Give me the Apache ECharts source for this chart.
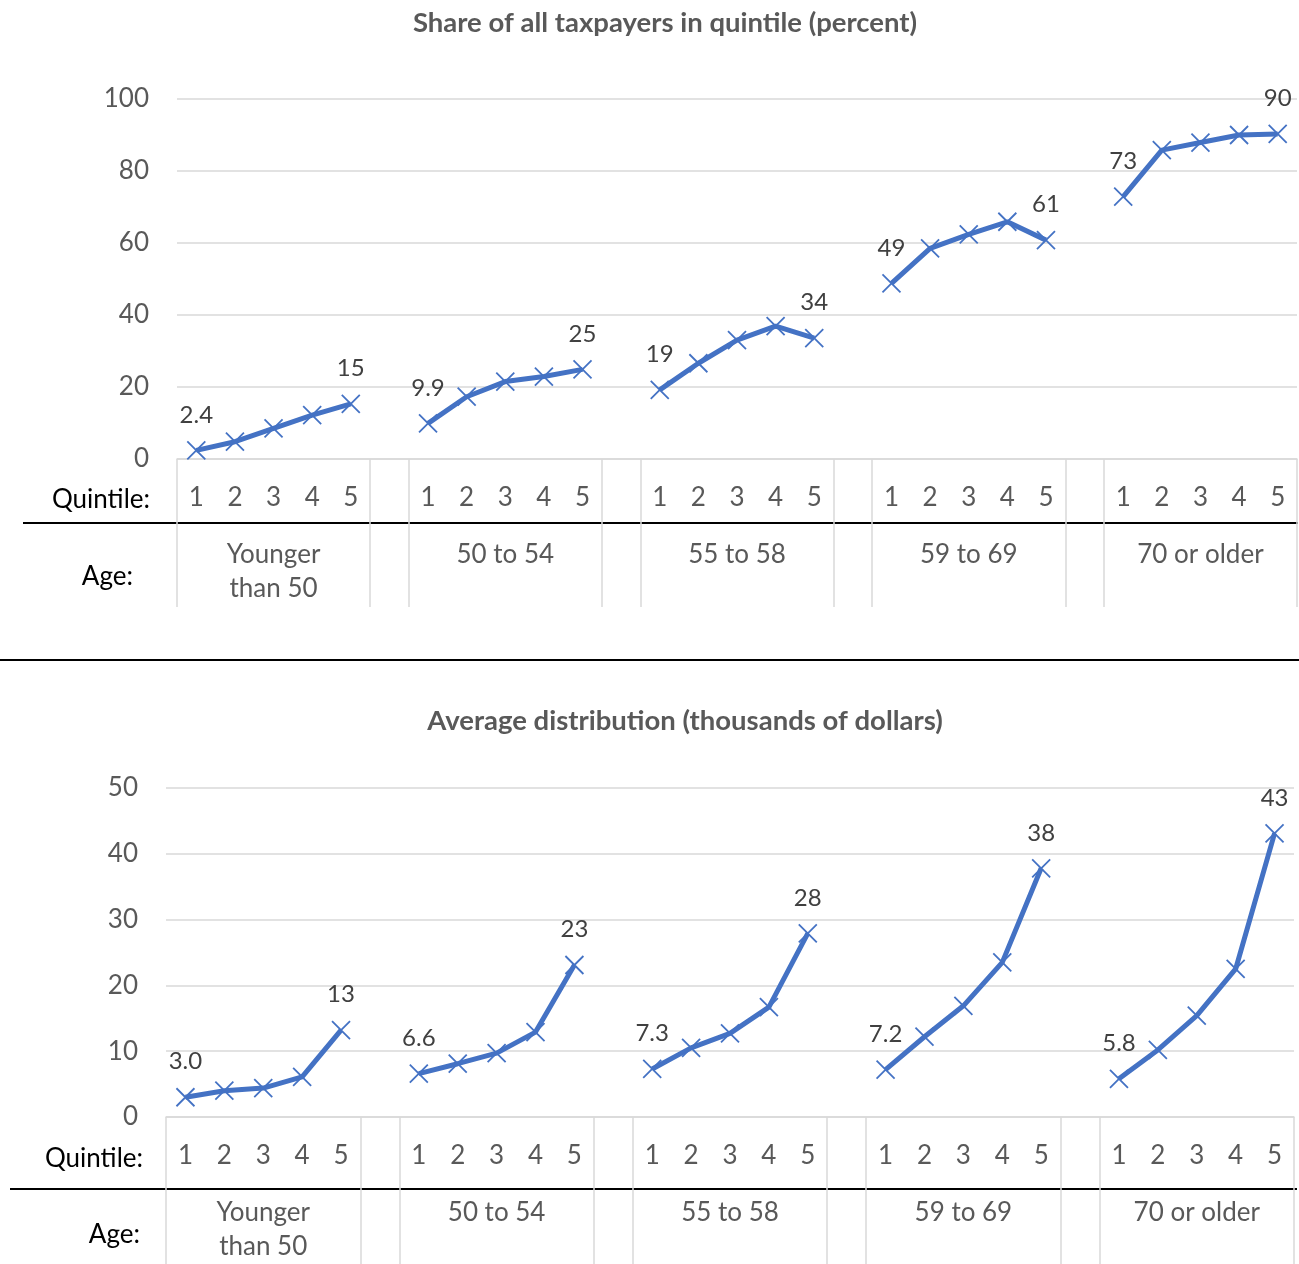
<!DOCTYPE html>
<html>
<head>
<meta charset="utf-8">
<script src="https://cdn.jsdelivr.net/npm/echarts@6/dist/echarts.min.js"></script>
<style>
  html, body { margin: 0; padding: 0; background: #fff; }
  #main { width: 1299px; height: 1264px; }
</style>
</head>
<body>
<div id="main"></div>
<script>
// quintiles inside each age group
const quintiles = ['1', '2', '3', '4', '5'];
const ageGroups = ['Younger\nthan 50', '50 to 54', '55 to 58', '59 to 69', '70 or older'];

// share of all taxpayers in quintile (percent), one row per age group
const shareYounger = [2.4, 4.8, 8.5, 12.2, 15.3];
const share50to54 = [9.9, 17.3, 21.5, 22.9, 24.9];
const share55to58 = [19.2, 26.6, 33.0, 36.9, 33.6];
const share59to69 = [48.8, 58.5, 62.4, 65.9, 60.8];
const share70plus = [72.9, 85.8, 87.9, 90.0, 90.3];

// average distribution (thousands of dollars)
const avgYounger = [3.0, 4.0, 4.4, 6.1, 13.2];
const avg50to54 = [6.6, 8.1, 9.7, 12.9, 23.1];
const avg55to58 = [7.3, 10.5, 12.7, 16.7, 27.9];
const avg59to69 = [7.2, 12.2, 16.9, 23.5, 37.8];
const avg70plus = [5.8, 10.2, 15.4, 22.5, 43.1];

const shareTicks = [0, 20, 40, 60, 80, 100];
const avgTicks = [0, 10, 20, 30, 40, 50];

const blue = '#4472c4';
const gray = '#595959';
const gridGray = '#d9d9d9';
const font = 'Lato';
const axisFont = 26;

// one empty slot between age groups
const groupSize = quintiles.length + 1;
let quintileCats = [];
let ageCats = [];
ageGroups.forEach((g, i) => {
    quintiles.forEach((q, j) => {
        quintileCats.push(q);
        ageCats.push(j == 2 ? g : '');
    });
    if (i < ageGroups.length - 1) {
        quintileCats.push('');
        ageCats.push('');
    }
});

const spread = (groups) => {
    let out = [];
    groups.forEach((g, i) => {
        g.forEach(v => out.push(v));
        if (i < groups.length - 1) out.push(null);
    });
    return out;
};

const shareData = spread([shareYounger, share50to54, share55to58, share59to69, share70plus]);
const avgData = spread([avgYounger, avg50to54, avg55to58, avg59to69, avg70plus]);

// vertical separators: left edge of each group and of each gap
const isBoundary = (idx) => idx % groupSize == 0 || idx % groupSize == groupSize - 1;
const isEnd = (idx) => idx % groupSize == 0 || idx % groupSize == groupSize - 2;
const fmt = (v) => v < 10 ? v.toFixed(1) : v.toFixed(0);

const quintileAxis = (gridIndex, tickLen) => ({
    type: 'category',
    gridIndex: gridIndex,
    data: quintileCats,
    boundaryGap: true,
    axisLine: { lineStyle: { color: gridGray, width: 1.5 } },
    axisTick: {
        show: true,
        interval: (idx) => isBoundary(idx),
        length: tickLen,
        lineStyle: { color: gridGray, width: 1.5 }
    },
    axisLabel: { interval: 0, color: gray, fontSize: axisFont, fontFamily: font, margin: 26 },
    splitLine: { show: false }
});

const ageAxis = (gridIndex) => ({
    type: 'category',
    gridIndex: gridIndex,
    position: 'bottom',
    data: ageCats,
    boundaryGap: true,
    axisLine: { show: false },
    axisTick: { show: false },
    axisLabel: {
        interval: 0, color: gray, fontSize: axisFont, fontFamily: font,
        margin: 79, lineHeight: 34, verticalAlign: 'top'
    },
    splitLine: { show: false }
});

const valueAxis = (gridIndex, ticks) => ({
    type: 'value',
    gridIndex: gridIndex,
    min: ticks[0],
    max: ticks[ticks.length - 1],
    interval: ticks[1] - ticks[0],
    axisLine: { show: false },
    axisTick: { show: false },
    axisLabel: { color: gray, fontSize: axisFont, fontFamily: font, margin: 28 },
    splitLine: { lineStyle: { color: gridGray, width: 1.5 } }
});

const lineSeries = (xIdx, yIdx, data) => ({
    type: 'line',
    xAxisIndex: xIdx,
    yAxisIndex: yIdx,
    data: data,
    connectNulls: false,
    symbol: 'path://M0,0L10,10M10,0L0,10',
    symbolSize: 18,
    showAllSymbol: true,
    lineStyle: { color: blue, width: 5 },
    itemStyle: { color: 'none', borderColor: blue, borderWidth: 1.8 },
    label: {
        show: true,
        position: 'top',
        distance: 12,
        color: '#404040',
        fontSize: 24,
        fontFamily: font,
        formatter: (p) => isEnd(p.dataIndex) && p.value != null ? fmt(p.value) : ''
    },
    emphasis: { disabled: true },
    animation: false
});

const textEl = (x, y, text, opts) => ({
    type: 'text',
    x: x,
    y: y,
    style: Object.assign({
        text: text,
        fontFamily: font,
        fontSize: axisFont,
        fill: '#000',
        textVerticalAlign: 'middle',
        verticalAlign: 'middle'
    }, opts)
});

const hLine = (x1, x2, y, w) => ({
    type: 'line',
    shape: { x1: x1, y1: y, x2: x2, y2: y },
    style: { stroke: '#000', lineWidth: w }
});

let option = {
    backgroundColor: '#fff',
    animation: false,
    grid: [
        { left: 177, right: 2, top: 99, height: 360 },
        { left: 166, right: 5, top: 788, height: 331 }
    ],
    xAxis: [quintileAxis(0, 148), ageAxis(0), quintileAxis(1, 150), ageAxis(1)],
    yAxis: [valueAxis(0, shareTicks), valueAxis(1, avgTicks)],
    series: [lineSeries(0, 0, shareData), lineSeries(2, 1, avgData)],
    graphic: [
        textEl(665, 23, 'Share of all taxpayers in quintile (percent)',
            { fontWeight: 'bold', fontSize: 27.5, fill: gray, align: 'center', textAlign: 'center' }),
        textEl(685, 721, 'Average distribution (thousands of dollars)',
            { fontWeight: 'bold', fontSize: 27.5, fill: gray, align: 'center', textAlign: 'center' }),
        textEl(150, 500, 'Quintile:', { align: 'right', textAlign: 'right' }),
        textEl(133, 577, 'Age:', { align: 'right', textAlign: 'right' }),
        textEl(143, 1159, 'Quintile:', { align: 'right', textAlign: 'right' }),
        textEl(140, 1235, 'Age:', { align: 'right', textAlign: 'right' }),
        hLine(23, 1298, 523, 2),
        hLine(0, 1299, 660, 2),
        hLine(10, 1297, 1189, 2)
    ]
};

let myChart = echarts.init(document.getElementById('main'), null, { renderer: 'canvas' });
myChart.setOption(option);
</script>
</body>
</html>
